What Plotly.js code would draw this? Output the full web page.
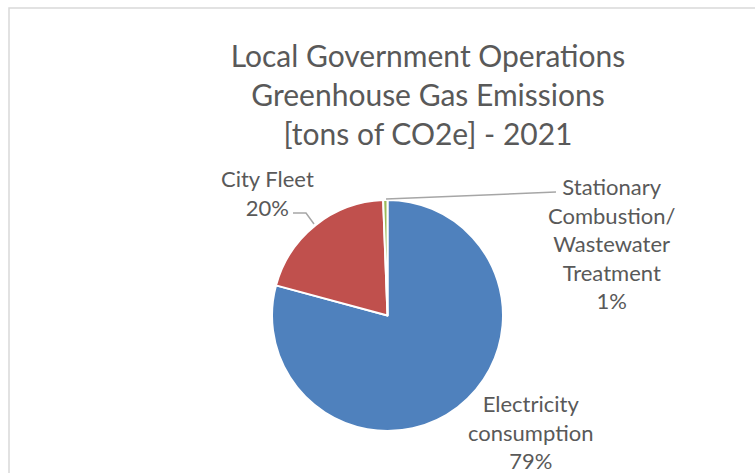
<!DOCTYPE html>
<html>
<head>
<meta charset="utf-8">
<script src="https://cdn.plot.ly/plotly-3.0.1.min.js"></script>
<style>html,body{margin:0;padding:0;background:#fff;}#chart{width:755px;height:473px;}</style>
</head>
<body>
<div id="chart"></div>
<script>
const categories = ["Electricity consumption", "City Fleet", "Stationary Combustion/ Wastewater Treatment"];
const labelLines = ["Electricity<br>consumption", "City Fleet", "Stationary<br>Combustion/<br>Wastewater<br>Treatment"];
const values = [79.2, 20.2, 0.6];
const colors = ["#4F81BD", "#C0504D", "#9BBB59"];
const titleText = "Local Government Operations<br>Greenhouse Gas Emissions<br>[tons of CO2e] - 2021";

const W = 755, H = 473;
const total = values.reduce((a, b) => a + b, 0);
const pct = values.map(v => Math.max(1, Math.round(v / total * 100)) + "%");

const px = x => x / W;
const py = y => 1 - y / H;

const labelPos = [[530, 432], [267, 193], [611, 244]];
const textColor = "#595959";
const font = "Lato, 'Open Sans', sans-serif";

const annotations = categories.map((c, i) => ({
  xref: "paper", yref: "paper",
  x: px(labelPos[i][0]), y: py(labelPos[i][1]),
  xanchor: "center", yanchor: "middle",
  text: labelLines[i] + "<br>" + pct[i],
  showarrow: false, align: "center",
  font: {family: font, size: 22, color: textColor}
}));

const leaderColor = "#A6A6A6";
const shapes = [
  {type: "rect", xref: "paper", yref: "paper", x0: px(9), y0: py(520), x1: px(800), y1: py(8),
   line: {color: "#D9D9D9", width: 1.5}, fillcolor: "rgba(0,0,0,0)"},
  {type: "path", xref: "paper", yref: "paper",
   path: "M " + px(293) + "," + py(213) + " L " + px(306) + "," + py(213) + " L " + px(314) + "," + py(224),
   line: {color: leaderColor, width: 1.5}},
  {type: "line", xref: "paper", yref: "paper", x0: px(386), y0: py(199), x1: px(556), y1: py(192),
   line: {color: leaderColor, width: 1.5}}
];

const data = [{
  type: "pie",
  labels: categories,
  values: values,
  sort: false,
  direction: "clockwise",
  rotation: 0,
  marker: {colors: colors, line: {color: "#FFFFFF", width: 2}},
  textinfo: "none",
  hoverinfo: "label+percent",
  domain: {x: [px(272), px(503)], y: [py(431), py(200)]},
  showlegend: false
}];

const layout = {
  width: W, height: H,
  margin: {l: 0, r: 0, t: 0, b: 0},
  paper_bgcolor: "#FFFFFF",
  title: {
    text: titleText,
    x: px(428), xanchor: "center", xref: "paper",
    y: py(67), yanchor: "top", yref: "container",
    font: {family: font, size: 30, color: textColor}
  },
  annotations: annotations,
  shapes: shapes,
  showlegend: false
};

Plotly.newPlot("chart", data, layout, {displayModeBar: false, staticPlot: true});
</script>
</body>
</html>
